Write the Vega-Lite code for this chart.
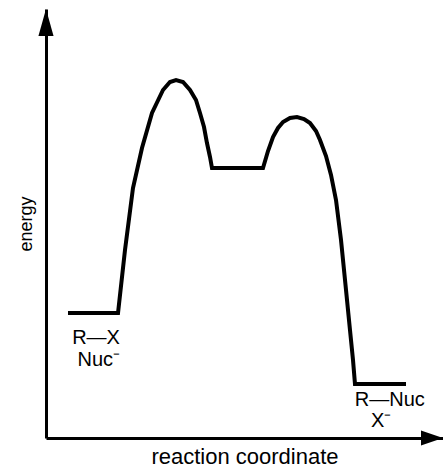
{
  "$schema": "https://vega.github.io/schema/vega-lite/v6.json",
  "autosize": "none",
  "width": 397,
  "height": 429,
  "padding": {"left": 46, "top": 9, "right": 0, "bottom": 32},
  "background": "white",
  "config": {
    "view": {"stroke": null},
    "font": "Liberation Sans",
    "axis": {
      "domain": true, "domainColor": "black", "domainWidth": 3,
      "ticks": false, "labels": false, "grid": false,
      "titleFont": "Liberation Sans", "titleFontWeight": "normal", "titleColor": "black"
    }
  },
  "datasets": {
    "curve": [
      {"rc": 5.54, "energy": 29.14},
      {"rc": 18.14, "energy": 29.14},
      {"rc": 19.90, "energy": 43.82},
      {"rc": 21.91, "energy": 58.28},
      {"rc": 24.18, "energy": 67.60},
      {"rc": 26.70, "energy": 75.76},
      {"rc": 29.47, "energy": 81.12},
      {"rc": 31.23, "energy": 82.98},
      {"rc": 32.75, "energy": 83.45},
      {"rc": 34.51, "energy": 82.98},
      {"rc": 36.27, "energy": 81.12},
      {"rc": 37.78, "energy": 78.79},
      {"rc": 38.79, "energy": 75.76},
      {"rc": 39.80, "energy": 72.49},
      {"rc": 40.55, "energy": 68.76},
      {"rc": 41.31, "energy": 65.50},
      {"rc": 41.81, "energy": 62.94},
      {"rc": 54.66, "energy": 62.94},
      {"rc": 55.92, "energy": 66.90},
      {"rc": 57.18, "energy": 70.16},
      {"rc": 58.44, "energy": 72.26},
      {"rc": 59.70, "energy": 73.66},
      {"rc": 61.46, "energy": 74.59},
      {"rc": 63.22, "energy": 74.83},
      {"rc": 64.99, "energy": 74.36},
      {"rc": 66.50, "energy": 73.43},
      {"rc": 68.01, "energy": 71.56},
      {"rc": 69.02, "energy": 69.46},
      {"rc": 70.53, "energy": 65.73},
      {"rc": 71.79, "energy": 61.31},
      {"rc": 73.05, "energy": 55.48},
      {"rc": 74.31, "energy": 46.15},
      {"rc": 75.57, "energy": 34.50},
      {"rc": 76.57, "energy": 25.17},
      {"rc": 77.33, "energy": 18.18},
      {"rc": 77.83, "energy": 12.59},
      {"rc": 90.68, "energy": 12.59}
    ],
    "labels": [
      {"text": "R—X", "rc": 12.6, "energy": 23.3},
      {"text": "Nuc⁻", "rc": 13.3, "energy": 18.2},
      {"text": "R—Nuc", "rc": 86.6, "energy": 8.8},
      {"text": "X⁻", "rc": 84.4, "energy": 3.9}
    ]
  },
  "layer": [
    {
      "data": {"name": "curve"},
      "mark": {"type": "line", "color": "black", "strokeWidth": 4, "interpolate": "linear"},
      "encoding": {
        "x": {"field": "rc", "type": "quantitative", "scale": {"domain": [0, 100], "nice": false, "zero": false},
              "axis": {"title": "reaction coordinate", "titleFontSize": 22, "titlePadding": 8}},
        "y": {"field": "energy", "type": "quantitative", "scale": {"domain": [0, 100], "nice": false, "zero": false},
              "axis": {"title": "energy", "titleFontSize": 18, "titlePadding": 11}},
        "order": {"field": "rc", "type": "quantitative"}
      }
    },
    {
      "data": {"values": [{"rc": 0, "energy": 96.86}]},
      "mark": {"type": "point", "shape": "M0,-1L0.56,1L-0.56,1Z", "size": 729, "filled": true, "color": "black", "opacity": 1, "strokeWidth": 0},
      "encoding": {
        "x": {"field": "rc", "type": "quantitative"},
        "y": {"field": "energy", "type": "quantitative"}
      }
    },
    {
      "data": {"values": [{"rc": 97.23, "energy": 0}]},
      "mark": {"type": "point", "shape": "M1,0L-1,0.68L-1,-0.68Z", "size": 484, "filled": true, "color": "black", "opacity": 1, "strokeWidth": 0},
      "encoding": {
        "x": {"field": "rc", "type": "quantitative"},
        "y": {"field": "energy", "type": "quantitative"}
      }
    },
    {
      "data": {"name": "labels"},
      "mark": {"type": "text", "font": "Liberation Sans", "fontSize": 20, "color": "black", "align": "center", "baseline": "middle"},
      "encoding": {
        "x": {"field": "rc", "type": "quantitative"},
        "y": {"field": "energy", "type": "quantitative"},
        "text": {"field": "text"}
      }
    }
  ]
}
